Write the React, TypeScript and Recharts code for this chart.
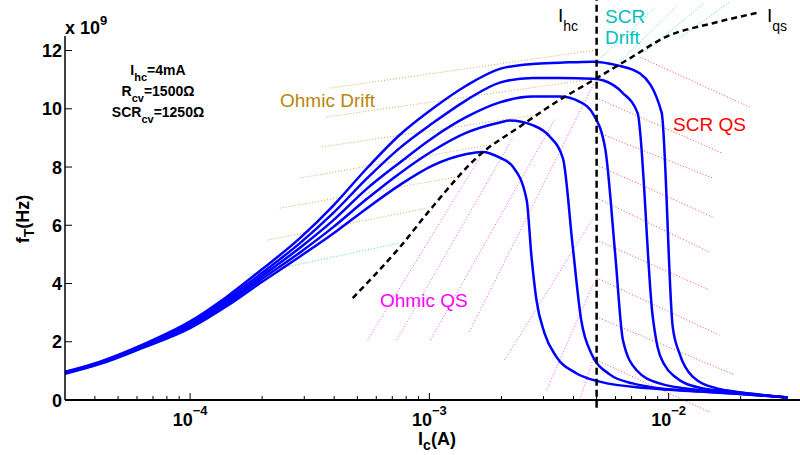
import { LineChart, Line, XAxis, YAxis, ReferenceLine } from "recharts";

// f_T (units of 1e9 Hz) versus I_c (A), one [Ic, fT] pair per point
const curve1: [number, number][] = [
  [3.0e-5, 0.9], [4.18e-5, 1.23], [6.33e-5, 1.79], [1.0e-4, 2.47], [1.42e-4, 3.22], [1.95e-4, 4.0],
  [2.87e-4, 4.92], [3.94e-4, 5.7], [5.47e-4, 6.58], [7.51e-4, 7.38], [1.03e-3, 8.05], [1.43e-3, 8.45],
  [1.67e-3, 8.52], [1.97e-3, 8.32], [2.23e-3, 8.02], [2.55e-3, 6.87], [2.67e-3, 4.95], [2.8e-3, 3.45],
  [3.03e-3, 2.29], [3.39e-3, 1.49], [4.11e-3, 0.92], [5.15e-3, 0.63], [8.33e-3, 0.4], [1.35e-2, 0.29],
  [1.85e-2, 0.22], [3.14e-2, 0.09],
];
const curve2: [number, number][] = [
  [3.0e-5, 0.92], [4.18e-5, 1.25], [6.33e-5, 1.82], [1.0e-4, 2.53], [1.42e-4, 3.3], [1.95e-4, 4.1],
  [2.87e-4, 5.06], [3.94e-4, 5.92], [5.47e-4, 6.9], [7.51e-4, 7.78], [1.03e-3, 8.55], [1.43e-3, 9.18],
  [1.97e-3, 9.53], [2.17e-3, 9.6], [2.7e-3, 9.44], [3.19e-3, 9.04], [3.62e-3, 8.28], [3.97e-3, 5.3],
  [4.31e-3, 2.75], [4.75e-3, 1.6], [5.67e-3, 0.88], [7.07e-3, 0.57], [8.33e-3, 0.45], [1.35e-2, 0.3],
  [1.85e-2, 0.23], [3.14e-2, 0.09],
];
const curve3: [number, number][] = [
  [3.0e-5, 0.93], [4.18e-5, 1.27], [6.33e-5, 1.84], [1.0e-4, 2.58], [1.42e-4, 3.38], [1.95e-4, 4.2],
  [2.87e-4, 5.22], [3.94e-4, 6.15], [5.47e-4, 7.25], [7.51e-4, 8.15], [1.03e-3, 9.0], [1.43e-3, 9.72],
  [1.97e-3, 10.22], [2.7e-3, 10.42], [3.5e-3, 10.42], [4.25e-3, 10.24], [4.81e-3, 9.85], [5.43e-3, 8.64],
  [5.98e-3, 5.0], [6.44e-3, 2.06], [7.33e-3, 1.03], [9.17e-3, 0.57], [1.35e-2, 0.34], [1.85e-2, 0.25],
  [3.14e-2, 0.09],
];
const curve4: [number, number][] = [
  [3.0e-5, 0.95], [4.18e-5, 1.29], [6.33e-5, 1.87], [1.0e-4, 2.64], [1.42e-4, 3.46], [1.95e-4, 4.3],
  [2.87e-4, 5.38], [3.94e-4, 6.4], [5.47e-4, 7.6], [7.51e-4, 8.65], [1.03e-3, 9.5], [1.43e-3, 10.3],
  [1.97e-3, 10.9], [2.7e-3, 11.06], [3.5e-3, 11.06], [4.81e-3, 11.03], [5.35e-3, 10.97], [6.42e-3, 10.55],
  [7.42e-3, 9.85], [8.57e-3, 2.9], [9.0e-3, 1.8], [9.62e-3, 1.2], [1.07e-2, 0.78], [1.35e-2, 0.42],
  [1.85e-2, 0.28], [3.14e-2, 0.09],
];
const curve5: [number, number][] = [
  [3.0e-5, 0.97], [4.18e-5, 1.31], [6.33e-5, 1.9], [1.0e-4, 2.7], [1.42e-4, 3.54], [1.95e-4, 4.42],
  [2.87e-4, 5.55], [3.94e-4, 6.65], [5.47e-4, 7.95], [7.51e-4, 9.1], [1.03e-3, 10.0], [1.43e-3, 10.8],
  [1.97e-3, 11.37], [2.7e-3, 11.54], [3.5e-3, 11.58], [4.81e-3, 11.62], [6.06e-3, 11.5], [7.57e-3, 11.22],
  [9.35e-3, 9.87], [1.04e-2, 2.51], [1.11e-2, 1.6], [1.26e-2, 0.8], [1.59e-2, 0.4], [1.85e-2, 0.3],
  [3.14e-2, 0.09],
];

// I_qs boundary (dashed)
const qsBoundary: [number, number][] = [
  [4.78e-4, 3.5], [7.51e-4, 5.24], [1.03e-3, 6.63], [1.62e-3, 8.41], [2.38e-3, 9.38], [3.4e-3, 10.24],
  [5.0e-3, 11.05], [6.87e-3, 11.73], [9.81e-3, 12.48], [1.53e-2, 12.94], [2.36e-2, 13.3],
];
const iHc = 5.0e-3;

// region hatching, [Ic1, fT1, Ic2, fT2]
const ohmicDriftHatch = [
  [3.87e-4, 10.71, 5.0e-3, 12.02],
  [3.72e-4, 9.72, 4.81e-3, 11.02],
  [3.55e-4, 8.69, 2.95e-3, 9.82],
  [2.87e-4, 7.62, 1.79e-3, 8.76],
  [2.37e-4, 6.59, 1.3e-3, 7.66],
  [2.11e-4, 5.49, 9.74e-4, 6.59],
];
const scrDriftHatch = [
  [1.74e-4, 4.29, 7.51e-4, 5.39],
  [5.0e-3, 11.61, 8.74e-3, 13.46],
  [6.06e-3, 11.5, 1.09e-2, 13.56],
  [7.94e-3, 11.95, 1.41e-2, 13.63],
  [1.11e-2, 12.43, 1.8e-2, 13.67],
];
const scrQsHatch = [
  [7.57e-3, 11.78, 2.18e-2, 10.06],
  [5.0e-3, 10.37, 1.67e-2, 8.48],
  [5.0e-3, 9.2, 1.53e-2, 7.62],
  [5.0e-3, 8.07, 1.53e-2, 6.28],
  [5.0e-3, 6.94, 1.48e-2, 5.08],
  [5.0e-3, 5.49, 1.48e-2, 3.78],
  [5.0e-3, 4.19, 1.63e-2, 2.23],
  [5.0e-3, 2.85, 1.89e-2, 0.86],
  [5.0e-3, 1.37, 1.48e-2, -0.41],
];
const ohmicQsHatch = [
  [5.52e-4, 2.06, 1.65e-3, 8.41],
  [7.3e-4, 2.06, 2.23e-3, 9.0],
  [1.01e-3, 2.06, 3.37e-3, 9.68],
  [1.47e-3, 2.34, 4.86e-3, 10.85],
  [2.06e-3, 1.37, 4.86e-3, 6.28],
  [3.09e-3, 0.34, 4.86e-3, 4.02],
  [4.25e-3, 0.0, 4.86e-3, 1.48],
];

const xTicks = [
  4e-5, 5e-5, 6e-5, 7e-5, 8e-5, 9e-5,
  1e-4, 2e-4, 3e-4, 4e-4, 5e-4, 6e-4, 7e-4, 8e-4, 9e-4,
  1e-3, 2e-3, 3e-3, 4e-3, 5e-3, 6e-3, 7e-3, 8e-3, 9e-3,
  1e-2, 2e-2, 3e-2,
];
const yTicks = [0, 2, 4, 6, 8, 10, 12];

const curves = [curve1, curve2, curve3, curve4, curve5];
const toRows = (pts: [number, number][]) => pts.map(([ic, ft]) => ({ ic, ft }));

const isDecade = (v: number) => {
  const e = Math.log10(v);
  return Math.abs(e - Math.round(e)) < 1e-6;
};

const BottomTick = (props: any) => {
  const { x, y, payload } = props;
  const major = isDecade(payload.value);
  const exp = Math.round(Math.log10(payload.value));
  return (
    <g>
      <line x1={x} x2={x} y1={y} y2={y - (major ? 7 : 4)} stroke="#000" strokeWidth={1} />
      {major && (
        <text x={x} y={y + 26} textAnchor="middle" fontSize={18} fontWeight="bold" fill="#000">
          10<tspan dy={-11} fontSize={13}>{"−" + -exp}</tspan>
        </text>
      )}
    </g>
  );
};

const TopTick = (props: any) => {
  const { x, y, payload } = props;
  const major = isDecade(payload.value);
  return <line x1={x} x2={x} y1={y} y2={y + (major ? 7 : 4)} stroke="#000" strokeWidth={1} />;
};

const LeftTick = (props: any) => {
  const { x, y, payload } = props;
  return (
    <g>
      <line x1={x} x2={x + 7} y1={y} y2={y} stroke="#000" strokeWidth={1} />
      <text x={x - 3} y={y + 6.5} textAnchor="end" fontSize={18} fontWeight="bold" fill="#000">
        {payload.value}
      </text>
    </g>
  );
};

const hatch = (segs: number[][], color: string, key: string) =>
  segs.map(([x1, y1, x2, y2], i) => (
    <ReferenceLine
      key={key + i}
      segment={[{ x: x1, y: y1 }, { x: x2, y: y2 }]}
      stroke={color}
      strokeOpacity={0.7}
      strokeWidth={1}
      strokeDasharray="1 2"
      ifOverflow="visible"
    />
  ));

export default function App() {
  return (
    <div
      style={{
        position: "absolute",
        left: 0,
        top: 0,
        width: 800,
        height: 455,
        overflow: "hidden",
        background: "#fff",
        fontFamily: '"Liberation Sans", Arial, Helvetica, sans-serif',
      }}
    >
      <style>{".unclipped path { clip-path: none !important; }"}</style>
      <LineChart width={800} height={455} margin={{ top: 36, right: 0, bottom: 0, left: 0 }}>
        <XAxis
          type="number"
          dataKey="ic"
          scale="log"
          domain={[3e-5, 0.0354]}
          allowDataOverflow
          ticks={xTicks}
          interval={0}
          tick={BottomTick}
          tickLine={false}
          tickSize={0}
          tickMargin={0}
          height={55}
          axisLine={{ stroke: "#000", strokeWidth: 2 }}
        />
        <XAxis
          xAxisId="top"
          orientation="top"
          type="number"
          scale="log"
          domain={[3e-5, 0.0354]}
          allowDataOverflow
          ticks={xTicks}
          interval={0}
          tick={TopTick}
          tickLine={false}
          tickSize={0}
          tickMargin={0}
          height={0}
          axisLine={{ stroke: "#000", strokeWidth: 1.5 }}
        />
        <YAxis
          type="number"
          domain={[0, 12.5]}
          allowDataOverflow
          ticks={yTicks}
          interval={0}
          tick={LeftTick}
          tickLine={false}
          tickSize={0}
          tickMargin={0}
          width={65}
          axisLine={{ stroke: "#000", strokeWidth: 1.5 }}
        />

        {hatch(ohmicDriftHatch, "#B8860B", "od")}
        {hatch(scrDriftHatch, "#00BFBF", "sd")}
        {hatch(scrQsHatch, "#FF0000", "sq")}
        {hatch(ohmicQsHatch, "#FF00FF", "oq")}

        {curves.map((c, i) => (
          <Line
            key={i}
            data={toRows(c)}
            dataKey="ft"
            type="monotone"
            stroke="#0000FF"
            strokeWidth={2.5}
            dot={false}
            isAnimationActive={false}
          />
        ))}

        <Line
          data={toRows(qsBoundary)}
          dataKey="ft"
          type="monotone"
          className="unclipped"
          stroke="#000"
          strokeWidth={2.5}
          strokeDasharray="6 4"
          dot={false}
          isAnimationActive={false}
        />
        <ReferenceLine
          segment={[{ x: iHc, y: -0.27 }, { x: iHc, y: 13.8 }]}
          stroke="#000"
          strokeWidth={2.5}
          strokeDasharray="7 4"
          ifOverflow="visible"
        />
      </LineChart>

      <svg
        width={800}
        height={455}
        style={{ position: "absolute", left: 0, top: 0, pointerEvents: "none" }}
      >
        <text x={65} y={34} fontSize={18} fontWeight="bold" fill="#000">
          x 10<tspan dy={-9} fontSize={13}>9</tspan>
        </text>

        <g fontSize={14} fontWeight="bold" fill="#000" textAnchor="middle">
          <text x={158} y={75}>
            I<tspan fontSize={11} dy={6}>hc</tspan><tspan dy={-6}>=4mA</tspan>
          </text>
          <text x={158} y={96}>
            R<tspan fontSize={11} dy={6}>cv</tspan><tspan dy={-6}>=1500Ω</tspan>
          </text>
          <text x={158} y={117}>
            SCR<tspan fontSize={11} dy={6}>cv</tspan><tspan dy={-6}>=1250Ω</tspan>
          </text>
        </g>

        <g fontSize={19}>
          <text x={280} y={107} fill="#B8860B">Ohmic Drift</text>
          <text x={673} y={131} fill="#FF0000">SCR QS</text>
          <text x={380} y={307} fill="#FF00FF">Ohmic QS</text>
          <text x={605} y={23} fill="#00BFBF">SCR</text>
          <text x={605} y={44} fill="#00BFBF">Drift</text>
          <text x={558} y={22} fill="#000">
            I<tspan fontSize={14} dy={9}>hc</tspan>
          </text>
          <text x={767} y={22} fill="#000">
            I<tspan fontSize={14} dy={9}>qs</tspan>
          </text>
        </g>

        <text x={437} y={445} textAnchor="middle" fontSize={18} fontWeight="bold" fill="#000">
          I<tspan fontSize={14} dy={5}>c</tspan><tspan dy={-5}>(A)</tspan>
        </text>
        <text
          transform="translate(29,219) rotate(-90)"
          textAnchor="middle"
          fontSize={18}
          fontWeight="bold"
          fill="#000"
        >
          f<tspan fontSize={14} dy={5}>T</tspan><tspan dy={-5}>(Hz)</tspan>
        </text>
      </svg>
    </div>
  );
}
